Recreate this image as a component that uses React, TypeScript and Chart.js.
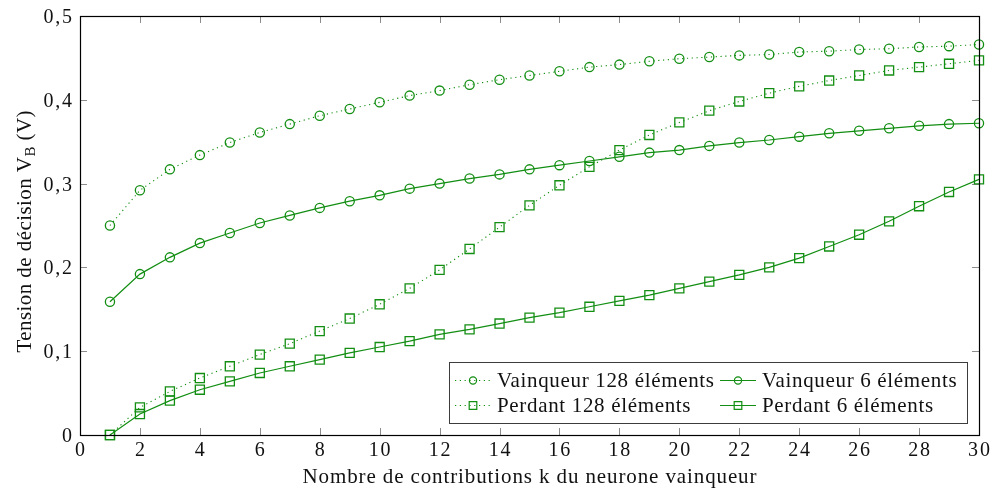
import React, { useEffect, useRef } from 'react';
import { Chart, registerables } from 'chart.js';

Chart.register(...registerables);

// ---------- data ----------
const kValues = [1, 2, 3, 4, 5, 6, 7, 8, 9, 10, 11, 12, 13, 14, 15, 16, 17, 18, 19, 20, 21, 22, 23, 24, 25, 26, 27, 28, 29, 30];

const vainqueur128 = [0.250, 0.292, 0.317, 0.334, 0.349, 0.361, 0.371, 0.381, 0.389, 0.397, 0.405, 0.411, 0.418, 0.424, 0.429, 0.434, 0.439, 0.442, 0.446, 0.449, 0.451, 0.453, 0.454, 0.457, 0.458, 0.460, 0.461, 0.463, 0.464, 0.466];
const vainqueur6 = [0.159, 0.192, 0.212, 0.229, 0.241, 0.253, 0.262, 0.271, 0.279, 0.286, 0.294, 0.300, 0.306, 0.311, 0.317, 0.322, 0.327, 0.332, 0.337, 0.340, 0.345, 0.349, 0.352, 0.356, 0.360, 0.363, 0.366, 0.369, 0.371, 0.372];
const perdant128 = [0, 0.033, 0.052, 0.068, 0.082, 0.096, 0.109, 0.124, 0.139, 0.156, 0.175, 0.197, 0.222, 0.248, 0.274, 0.298, 0.320, 0.340, 0.358, 0.373, 0.387, 0.398, 0.408, 0.416, 0.423, 0.429, 0.435, 0.439, 0.443, 0.447];
const perdant6 = [0, 0.025, 0.041, 0.054, 0.064, 0.074, 0.082, 0.090, 0.098, 0.105, 0.112, 0.120, 0.126, 0.133, 0.140, 0.146, 0.153, 0.160, 0.167, 0.175, 0.183, 0.191, 0.200, 0.211, 0.225, 0.239, 0.255, 0.273, 0.290, 0.305];

const seriesLabels = ['Vainqueur 128 éléments', 'Vainqueur 6 éléments', 'Perdant 128 éléments', 'Perdant 6 éléments'];

const xTickValues = [0, 2, 4, 6, 8, 10, 12, 14, 16, 18, 20, 22, 24, 26, 28, 30];
const xTickLabels = ['0', '2', '4', '6', '8', '10', '12', '14', '16', '18', '20', '22', '24', '26', '28', '30'];
const yTickValues = [0, 0.1, 0.2, 0.3, 0.4, 0.5];
const yTickLabels = ['0', '0,1', '0,2', '0,3', '0,4', '0,5'];

const xTitle = 'Nombre de contributions k du neurone vainqueur';
const yTitleMain = 'Tension de décision V';
const yTitleSub = 'B';
const yTitleEnd = ' (V)';

// ---------- style ----------
const GREEN = 'rgb(18,142,18)';
const FONT_FAMILY = '"Liberation Serif", "Times New Roman", serif';
const FONT_SIZE = 21;
const TICK_SIZE = 20;
const TICK_LS = 1.8;

function setLS(ctx: any, px: number) {
  ctx.letterSpacing = px + 'px';
}
function natW(ctx: CanvasRenderingContext2D, t: string) {
  setLS(ctx, 0);
  return ctx.measureText(t).width;
}
function visW(ctx: CanvasRenderingContext2D, t: string, ls: number) {
  return natW(ctx, t) + ([...t].length - 1) * ls;
}
function drawSpaced(ctx: CanvasRenderingContext2D, t: string, x: number, y: number, ls: number) {
  setLS(ctx, ls);
  ctx.textAlign = 'left';
  ctx.fillText(t, x, y);
  setLS(ctx, 0);
}
function fitLS(ctx: CanvasRenderingContext2D, t: string, target: number) {
  const n = [...t].length;
  return n > 1 ? (target - natW(ctx, t)) / (n - 1) : 0;
}

function drawMarker(ctx: CanvasRenderingContext2D, style: string, x: number, y: number, r: number) {
  ctx.beginPath();
  if (style === 'rect') {
    ctx.rect(x - r, y - r, 2 * r, 2 * r);
  } else {
    ctx.arc(x, y, r, 0, Math.PI * 2);
  }
  ctx.stroke();
}

const decorPlugin = {
  id: 'decor',
  beforeDatasetsDraw(chart: any) {
    const { ctx, chartArea: ca, scales } = chart;
    const xs = scales.x;
    const ys = scales.y;
    ctx.save();
    ctx.strokeStyle = '#8c8c8c';
    ctx.lineWidth = 1;
    ctx.beginPath();
    for (const v of xTickValues) {
      const px = Math.round(xs.getPixelForValue(v)) + 0.5;
      ctx.moveTo(px, ca.bottom);
      ctx.lineTo(px, ca.bottom - 7);
      ctx.moveTo(px, ca.top);
      ctx.lineTo(px, ca.top + 7);
    }
    for (const v of yTickValues) {
      const py = Math.round(ys.getPixelForValue(v)) + 0.5;
      ctx.moveTo(ca.left, py);
      ctx.lineTo(ca.left + 7, py);
      ctx.moveTo(ca.right, py);
      ctx.lineTo(ca.right - 7, py);
    }
    ctx.stroke();
    ctx.restore();
  },
  afterDatasetsDraw(chart: any) {
    const { ctx, chartArea: ca, scales } = chart;
    const xs = scales.x;
    const ys = scales.y;
    ctx.save();

    // frame
    ctx.strokeStyle = '#000';
    ctx.lineWidth = 1.2;
    ctx.strokeRect(Math.round(ca.left) + 0.5, Math.round(ca.top) + 0.5, Math.round(ca.right - ca.left), Math.round(ca.bottom - ca.top));

    ctx.fillStyle = '#111';
    ctx.textBaseline = 'alphabetic';
    ctx.font = `${TICK_SIZE}px ${FONT_FAMILY}`;

    // x tick labels
    xTickValues.forEach((v, i) => {
      const t = xTickLabels[i];
      const px = xs.getPixelForValue(v);
      const w = visW(ctx, t, TICK_LS);
      drawSpaced(ctx, t, px - w / 2, ca.bottom + 21, TICK_LS);
    });
    // y tick labels
    yTickValues.forEach((v, i) => {
      const t = yTickLabels[i];
      const py = ys.getPixelForValue(v);
      const w = visW(ctx, t, TICK_LS);
      drawSpaced(ctx, t, ca.left - 8 - w, py + 7, TICK_LS);
    });

    const mainFont = `${FONT_SIZE}px ${FONT_FAMILY}`;
    const subFont = `${Math.round(FONT_SIZE * 0.72)}px ${FONT_FAMILY}`;

    // x title
    ctx.font = mainFont;
    const xCenter = (ca.left + ca.right) / 2;
    const xTarget = 454;
    const xls = fitLS(ctx, xTitle, xTarget);
    drawSpaced(ctx, xTitle, xCenter - xTarget / 2, ca.bottom + 48, xls);

    // y title (rotated, with subscript)
    ctx.font = mainFont;
    const w1 = natW(ctx, yTitleMain);
    const w3 = natW(ctx, yTitleEnd);
    ctx.font = subFont;
    const w2 = natW(ctx, yTitleSub);
    const nChars = [...yTitleMain].length + [...yTitleSub].length + [...yTitleEnd].length;
    const yTarget = 242;
    const yls = (yTarget - (w1 + w2 + w3)) / (nChars - 1);
    ctx.save();
    ctx.translate(31, (ca.top + ca.bottom) / 2 + 6);
    ctx.rotate(-Math.PI / 2);
    let cx = -yTarget / 2;
    ctx.font = mainFont;
    drawSpaced(ctx, yTitleMain, cx, 0, yls);
    cx += w1 + [...yTitleMain].length * yls;
    ctx.font = subFont;
    drawSpaced(ctx, yTitleSub, cx, 4, yls);
    cx += w2 + [...yTitleSub].length * yls;
    ctx.font = mainFont;
    drawSpaced(ctx, yTitleEnd, cx, 0, yls);
    ctx.restore();

    // legend
    const boxW = 518;
    const boxH = 61;
    const bx = Math.round(ca.right - 12 - boxW);
    const by = Math.round(ca.bottom - 12 - boxH);
    ctx.fillStyle = '#fff';
    ctx.fillRect(bx, by, boxW, boxH);
    ctx.strokeStyle = '#3c3c3c';
    ctx.lineWidth = 1;
    ctx.strokeRect(bx + 0.5, by + 0.5, boxW, boxH);

    ctx.font = mainFont;
    const lls = fitLS(ctx, seriesLabels[0], 217);
    const colX = [bx + 6, bx + 271];
    const rowY = [by + 18, by + 43];
    chart.data.datasets.forEach((ds: any, i: number) => {
      const col = i % 2;
      const row = Math.floor(i / 2);
      const x0 = colX[col];
      const y0 = rowY[row];
      ctx.strokeStyle = GREEN;
      ctx.lineWidth = ds.borderWidth;
      ctx.setLineDash(ds.borderDash || []);
      ctx.beginPath();
      ctx.moveTo(x0, y0 + 0.5);
      ctx.lineTo(x0 + 36, y0 + 0.5);
      ctx.stroke();
      ctx.setLineDash([]);
      ctx.lineWidth = 1.2;
      drawMarker(ctx, ds.pointStyle, x0 + 18, y0 + 0.5, ds.pointStyle === 'rect' ? 3.8 : 3.6);
      ctx.fillStyle = '#111';
      drawSpaced(ctx, ds.label, x0 + 42, y0 + 7, lls);
    });

    ctx.restore();
  },
};

function makeDataset(label: string, values: number[], dotted: boolean, marker: string) {
  return {
    label,
    data: kValues.map((k, i) => ({ x: k, y: values[i] })),
    borderColor: GREEN,
    borderWidth: dotted ? 1.1 : 1.2,
    borderDash: dotted ? [1.2, 3.6] : [],
    pointStyle: marker,
    pointRadius: marker === 'rect' ? 6.4 : 4.6,
    pointBorderWidth: 1.3,
    pointBorderColor: GREEN,
    pointBackgroundColor: 'rgba(0,0,0,0)',
    fill: false,
    tension: 0,
    clip: false,
  };
}

export default function App() {
  const ref = useRef<HTMLCanvasElement>(null);
  useEffect(() => {
    document.body.style.margin = '0';
    const chart = new Chart(ref.current as HTMLCanvasElement, {
      type: 'line',
      data: {
        datasets: [
          makeDataset(seriesLabels[0], vainqueur128, true, 'circle'),
          makeDataset(seriesLabels[1], vainqueur6, false, 'circle'),
          makeDataset(seriesLabels[2], perdant128, true, 'rect'),
          makeDataset(seriesLabels[3], perdant6, false, 'rect'),
        ] as any,
      },
      options: {
        responsive: false,
        animation: false,
        events: [],
        layout: { padding: { left: 0, right: 12, top: 16, bottom: 0 } },
        plugins: { legend: { display: false }, tooltip: { enabled: false }, title: { display: false } },
        scales: {
          x: {
            type: 'linear',
            min: 0,
            max: 30,
            ticks: { display: false, stepSize: 2 },
            grid: { display: false },
            border: { display: false },
            afterFit: (s: any) => { s.height = 58; },
          },
          y: {
            type: 'linear',
            min: 0,
            max: 0.5,
            ticks: { display: false, stepSize: 0.1 },
            grid: { display: false },
            border: { display: false },
            afterFit: (s: any) => { s.width = 80; },
          },
        },
      } as any,
      plugins: [decorPlugin],
    });
    return () => chart.destroy();
  }, []);
  return (
    <div style={{ width: 991, height: 493 }}>
      <canvas ref={ref} width={991} height={493} style={{ display: 'block', width: 991, height: 493 }} />
    </div>
  );
}
